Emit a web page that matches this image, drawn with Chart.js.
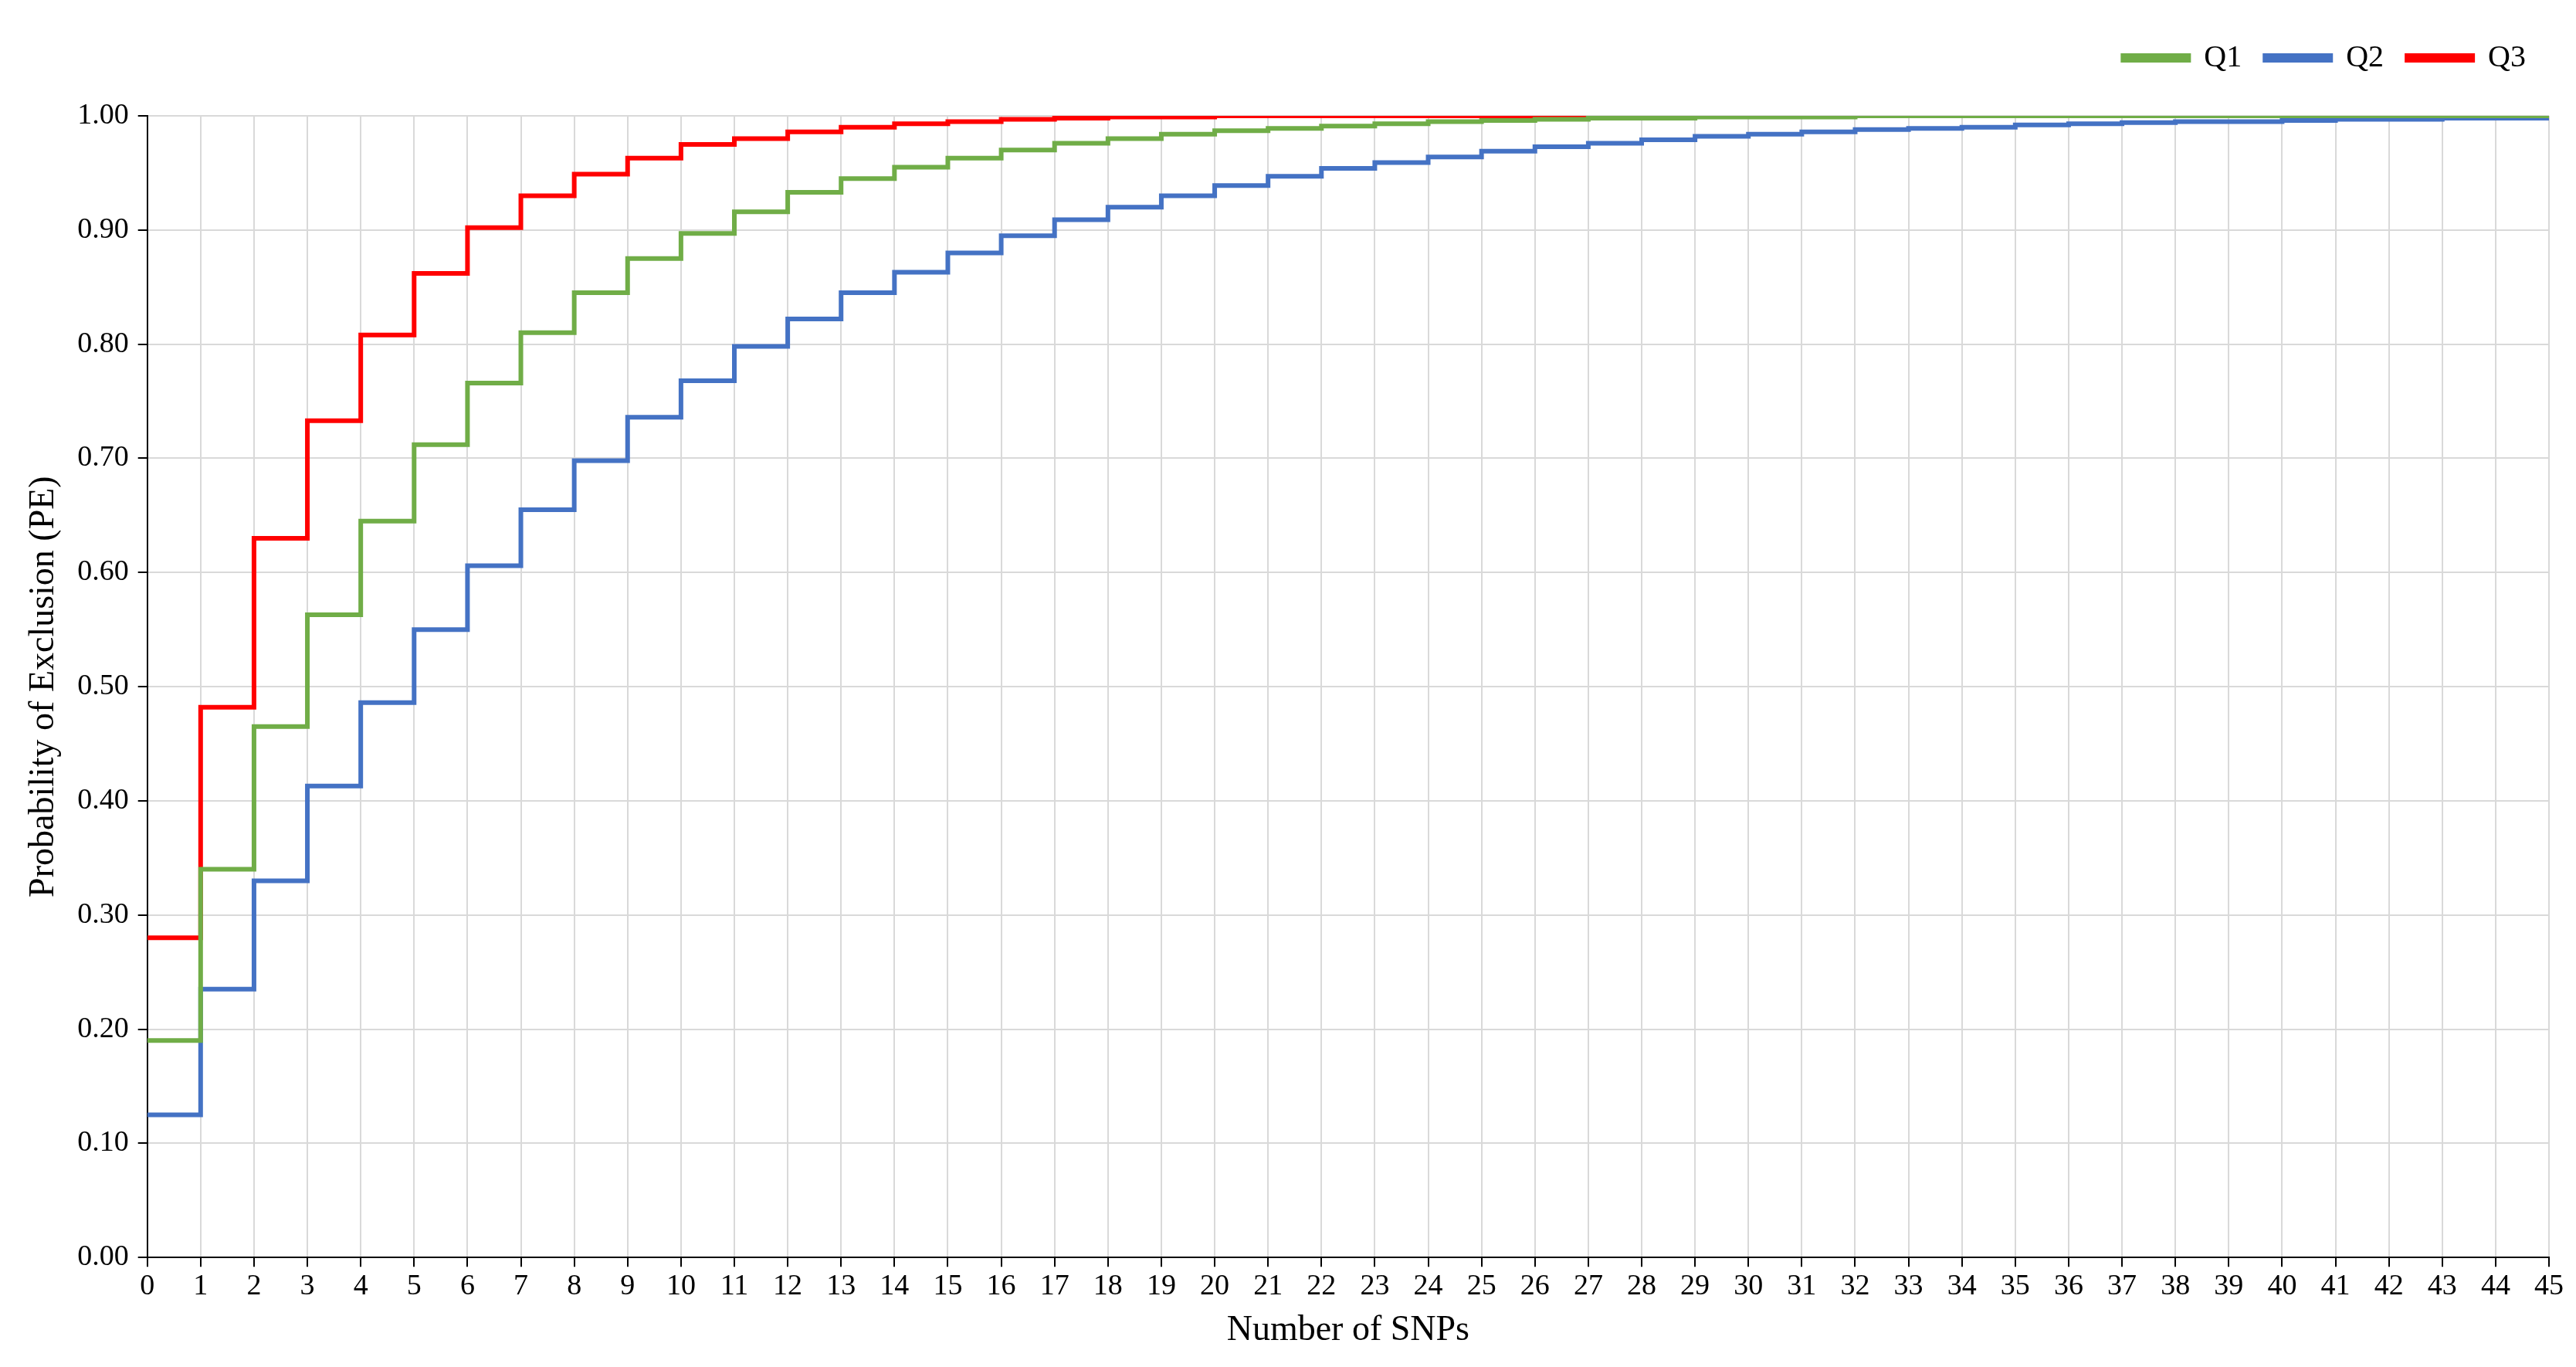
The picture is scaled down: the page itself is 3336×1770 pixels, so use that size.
<!DOCTYPE html>
<html><head><meta charset="utf-8">
<script src="https://cdn.jsdelivr.net/npm/chart.js@4"></script>
<style>html,body{margin:0;background:#fff}#w{width:3336px;height:1770px}</style>
</head><body><div id="w"><canvas id="c"></canvas></div>
<script>
const snps = Array.from({length:46},(_,i)=>i);
const q1 = [0.19,0.34,0.465,0.563,0.645,0.712,0.766,0.81,0.845,0.875,0.897,0.916,0.933,0.945,0.955,0.963,0.97,0.976,0.98,0.984,0.987,0.989,0.991,0.993,0.995,0.996,0.997,0.998,0.998,0.999,0.999,0.999,1,1,1,1,1,1,1,1,1,1,1,1,1,1];
const q2 = [0.125,0.235,0.33,0.413,0.486,0.55,0.606,0.655,0.698,0.736,0.768,0.798,0.822,0.845,0.863,0.88,0.895,0.909,0.92,0.93,0.939,0.947,0.954,0.959,0.964,0.969,0.973,0.976,0.979,0.982,0.984,0.986,0.988,0.989,0.99,0.992,0.993,0.994,0.995,0.995,0.996,0.997,0.997,0.998,0.998,0.998];
const q3 = [0.28,0.482,0.63,0.733,0.808,0.862,0.902,0.93,0.949,0.963,0.975,0.98,0.986,0.99,0.993,0.995,0.997,0.998,0.999,0.999,1,1,1,1,1,1,1,1,1,1,1,1,1,1,1,1,1,1,1,1,1,1,1,1,1,1];
// stepped 'before' in Chart.js draws horizontal-then-vertical here; append final point so the last step reaches x=45
const mk=(d)=>snps.map((x,i)=>({x,y:d[i]}));
const F='"Liberation Serif","Times New Roman",serif';
const legendPad={id:'lp',beforeInit(c){const f=c.legend.fit;c.legend.fit=function(){f.call(this);this.height+=45;};}};
new Chart(document.getElementById('c'),{type:'line',plugins:[legendPad],
data:{datasets:[
{label:'Q1',data:mk(q1),borderColor:'#70AD47',backgroundColor:'#70AD47'},
{label:'Q2',data:mk(q2),borderColor:'#4472C4',backgroundColor:'#4472C4'},
{label:'Q3',data:mk(q3),borderColor:'#FF0000',backgroundColor:'#FF0000'}
].map(d=>Object.assign(d,{stepped:'before',borderWidth:6,pointRadius:0,fill:false}))},
options:{responsive:true,maintainAspectRatio:false,animation:false,
layout:{padding:{left:25,right:35,top:25,bottom:15}},
plugins:{legend:{position:'top',align:'end',labels:{boxWidth:85,boxHeight:6,padding:30,color:'#000',font:{family:F,size:40}}},tooltip:{enabled:false}},
scales:{
x:{type:'linear',min:0,max:45,ticks:{stepSize:1,color:'#000',font:{family:F,size:38}},
 grid:{color:'#d9d9d9',lineWidth:2,tickColor:'#000',tickLength:12},border:{color:'#000',width:2},
 title:{display:true,text:'Number of SNPs',color:'#000',font:{family:F,size:46}}},
y:{min:0,max:1,ticks:{stepSize:0.1,color:'#000',font:{family:F,size:38},padding:12,callback:v=>v.toFixed(2)},
 grid:{color:'#d9d9d9',lineWidth:2,tickColor:'#000',tickLength:12},border:{color:'#000',width:2},
 title:{display:true,text:'Probability of Exclusion (PE)',color:'#000',font:{family:F,size:46}}}
}}});
</script></body></html>
